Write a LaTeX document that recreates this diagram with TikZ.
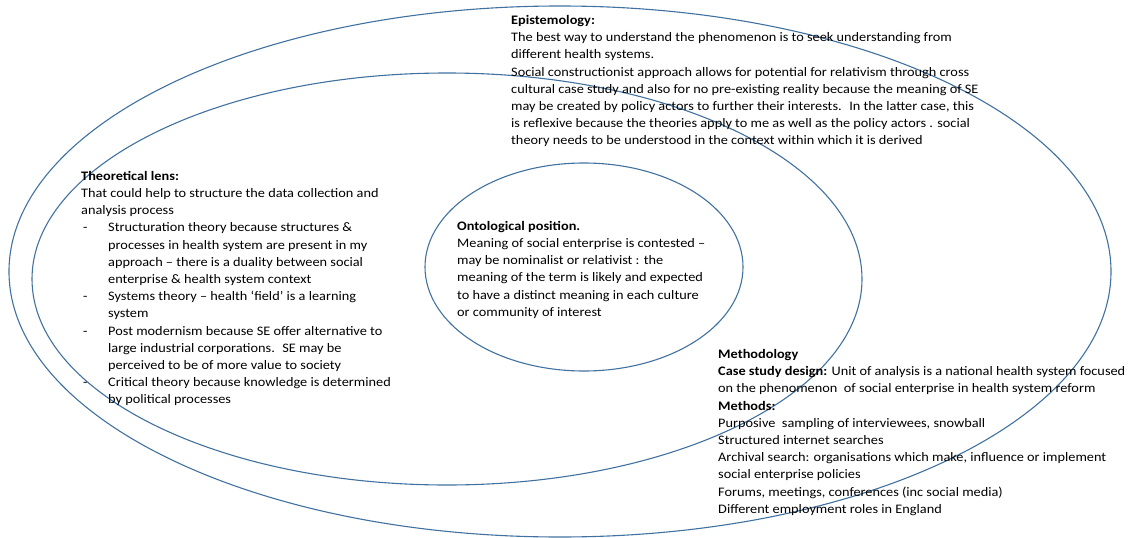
\documentclass[tikz,border=0pt]{standalone}
\usepackage{fontspec}
\setmainfont{Carlito}[FakeStretch=1.1]
\definecolor{ringblue}{RGB}{65,113,160}
\begin{document}
\begin{tikzpicture}[x=1pt,y=-1pt,
  ring/.style={draw=ringblue,line width=1.1pt},
  txt/.style={anchor=north west,inner sep=0pt,align=left,
    font=\fontsize{13}{17.2}\selectfont,text=black}]
\useasboundingbox (0,0) rectangle (1135,538);

% three nested rings
\coordinate (outerc) at (560,271.5);
\coordinate (middlec) at (447,279);
\coordinate (innerc) at (584,267);
\draw[ring] (outerc) ellipse [x radius=551,y radius=265.5];
\draw[ring] (middlec) ellipse [x radius=415,y radius=206];
\draw[ring] (innerc) ellipse [x radius=159,y radius=104];

% epistemology, top of the outer ring
\node[txt] (epi) at (511,12.3) {\strut\textbf{Epistemology:}\\
The best way to understand the phenomenon is to seek understanding from\\
different health systems.\\
Social constructionist approach allows for potential for relativism through cross\\
cultural case study and also for no pre-existing reality because the meaning of SE\\
may be created by policy actors to further their interests.~ In the latter case, this\\
is reflexive because the theories apply to me as well as the policy actors . social\\
theory needs to be understood in the context within which it is derived};

% theoretical lens, left part of the middle ring
\node[txt] (lens) at (81,168) {\strut\textbf{Theoretical lens:}\\
That could help to structure the data collection and\\
analysis process\\
\makebox[27pt][l]{\hspace{2pt}-}Structuration theory because structures \&\\
\hspace*{27pt}processes in health system are present in my\\
\hspace*{27pt}approach – there is a duality between social\\
\hspace*{27pt}enterprise \& health system context\\
\makebox[27pt][l]{\hspace{2pt}-}Systems theory – health ‘field’ is a learning\\
\hspace*{27pt}system\\
\makebox[27pt][l]{\hspace{2pt}-}Post modernism because SE offer alternative to\\
\hspace*{27pt}large industrial corporations.~ SE may be\\
\hspace*{27pt}perceived to be of more value to society\\
\makebox[27pt][l]{\hspace{2pt}-}Critical theory because knowledge is determined\\
\hspace*{27pt}by political processes};

% ontological position, inner ring
\node[txt] (onto) at (457,218) {\strut\textbf{Ontological position.}\\
Meaning of social enterprise is contested –\\
may be nominalist or relativist : the\\
meaning of the term is likely and expected\\
to have a distinct meaning in each culture\\
or community of interest};

% methodology, lower right
\node[txt] (method) at (718,346.3) {\strut\textbf{Methodology}\\
\textbf{Case study design:} Unit of analysis is a national health system focused\\
on the phenomenon~ of social enterprise in health system reform\\
\textbf{Methods:}\\
Purposive~ sampling of interviewees, snowball\\
Structured internet searches\\
Archival search: organisations which make, influence or implement\\
social enterprise policies\\
Forums, meetings, conferences (inc social media)\\
Different employment roles in England};
\end{tikzpicture}
\end{document}
